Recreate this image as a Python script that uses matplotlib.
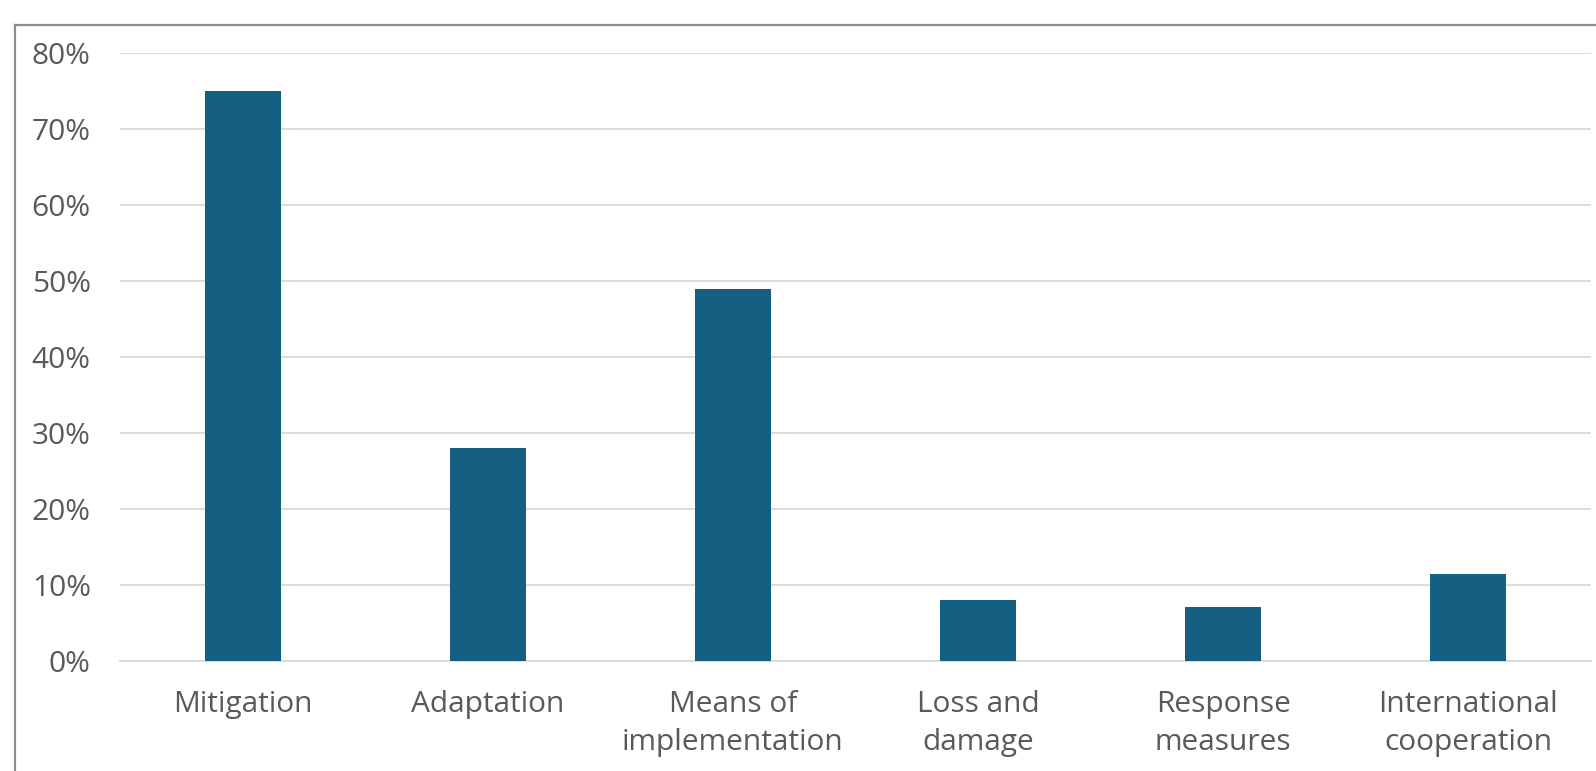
import matplotlib.pyplot as plt
from matplotlib.lines import Line2D
from matplotlib.ticker import PercentFormatter

plt.rcParams['font.family'] = ['Open Sans', 'DejaVu Sans']

# Share of items per thematic area
categories = ["Mitigation", "Adaptation", "Means of\nimplementation",
              "Loss and\ndamage", "Response\nmeasures", "International\ncooperation"]
shares = [0.75, 0.28, 0.49, 0.08, 0.071, 0.114]
yticks = [0, 0.1, 0.2, 0.3, 0.4, 0.5, 0.6, 0.7, 0.8]

bar_color = "#156082"
text_color = "#595959"
grid_color = "#d9d9d9"

fig = plt.figure(figsize=(15.96, 7.71), dpi=100)
ax = fig.add_axes([0.0752, 0.1427, 0.9217, 0.7886])

x = range(len(categories))
ax.bar(x, shares, width=0.31, color=bar_color, zorder=3)

ax.set_xlim(-0.5, len(categories) - 0.5)
ax.set_ylim(0, 0.8)
ax.set_yticks(yticks)
ax.yaxis.set_major_formatter(PercentFormatter(1.0, decimals=0))
ax.set_xticks(list(x))
ax.set_xticklabels(categories, linespacing=1.42)

ax.grid(axis="y", color=grid_color, linewidth=1.3, zorder=0)
for side in ["top", "right", "left"]:
    ax.spines[side].set_visible(False)
ax.spines["bottom"].set_color(grid_color)
ax.spines["bottom"].set_linewidth(1.3)

ax.tick_params(axis="y", length=0, pad=21, labelsize=21.5, labelcolor=text_color)
ax.tick_params(axis="x", length=0, pad=21, labelsize=21.5, labelcolor=text_color)
for lbl in ax.get_xticklabels():
    lbl.set_verticalalignment("top")

# outer frame of the chart area
fx = 15 / 1596
fy = 1 - 25 / 771
fig.add_artist(Line2D([fx, fx], [0, fy], color="#8c8c8c", linewidth=1.6))
fig.add_artist(Line2D([fx, 1], [fy, fy], color="#8c8c8c", linewidth=1.6))

fig.savefig("out.png", dpi=100, facecolor="white")
